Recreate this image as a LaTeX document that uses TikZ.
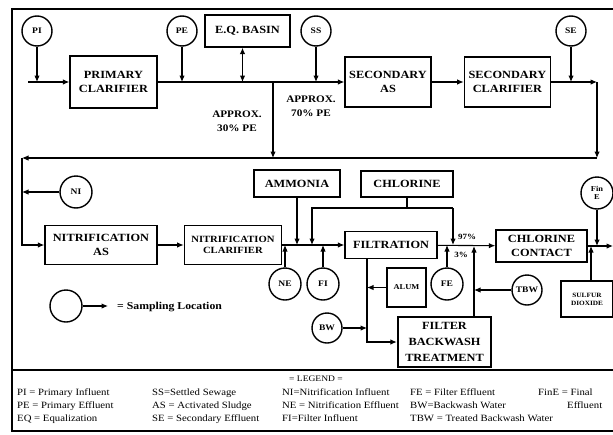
\documentclass[tikz,border=0pt]{standalone}
\usepackage{fontspec}
\setmainfont{Liberation Serif}[FakeStretch=1.12]
\usetikzlibrary{positioning,arrows.meta}

\begin{document}
\begin{tikzpicture}[x=1pt,y=-1pt,
  blk/.style={draw,line width=1.4pt,align=center,inner sep=2pt,
              font=\fontsize{11}{13.5}\selectfont\bfseries},
  smp/.style={draw,circle,line width=1.4pt,minimum size=30pt,inner sep=0pt,
              font=\fontsize{8.5}{9}\selectfont\bfseries},
  lbl/.style={align=center,inner sep=0pt,font=\fontsize{10}{14}\selectfont\bfseries},
  pct/.style={inner sep=0pt,font=\fontsize{8}{9}\selectfont\bfseries},
  keycol/.style={anchor=north west,align=left,inner sep=0pt,
                 font=\fontsize{9.6}{13}\selectfont},
  ar/.style={-{Latex[length=6.5pt,width=5.5pt]},line width=1.1pt},
  dar/.style={{Latex[length=6.5pt,width=5.5pt]}-{Latex[length=6.5pt,width=5.5pt]},line width=1.1pt},
  ln/.style={line width=1.1pt}
]
\useasboundingbox (0,0) rectangle (613,434);
\clip (0,0) rectangle (613,434);
\draw[line width=1.8pt] (12,9) rectangle (620,431);

% sampling points
\node[smp] (pi) at (37,31) {PI};
\node[smp] (pe) at (182,31) {PE};
\node[smp] (ss) at (316,31) {SS};
\node[smp] (se) at (571,31) {SE};
\node[smp,minimum size=32pt] (ni) at (76,192) {NI};
\node[smp,minimum size=32pt] (ne) at (285,284) {NE};
\node[smp,minimum size=32pt] (fi) at (323,284) {FI};
\node[smp,minimum size=32pt] (fe) at (447,284) {FE};
\node[smp] (bw) at (327,328) {BW};
\node[smp] (tbw) at (527,290) {TBW};
\node[smp,minimum size=32pt,font=\fontsize{7.5}{8.5}\selectfont\bfseries,align=center] (fin) at (597,193) {Fin\\E};

% process units
\node[blk,minimum width=87pt,minimum height=52pt] (pc) at (113.5,82) {PRIMARY\\CLARIFIER};
\node[blk,minimum width=85pt,minimum height=32pt] (eq) at (247.5,31) {E.Q. BASIN};
\node[blk,minimum width=86pt,minimum height=50pt] (sas) at (388,82) {SECONDARY\\AS};
\node[blk,minimum width=86pt,minimum height=50pt,right=32pt of sas] (sc) {SECONDARY\\CLARIFIER};
\node[blk,minimum width=112pt,minimum height=39pt] (nas) at (101,245) {NITRIFICATION\\AS};
\node[blk,font=\fontsize{9.5}{11.5}\selectfont\bfseries,minimum width=97pt,minimum height=39pt,
      right=26pt of nas] (nc) {NITRIFICATION\\CLARIFIER};
\node[blk,minimum width=86pt,minimum height=27pt] (amm) at (297,183.5) {AMMONIA};
\node[blk,minimum width=92pt,minimum height=26pt] (chl) at (407,184) {CHLORINE};
\node[blk,minimum width=92pt,minimum height=27pt] (filt) at (391,245) {FILTRATION};
\node[blk,minimum width=91pt,minimum height=32pt] (cc) at (541.5,246) {CHLORINE\\CONTACT};
\node[blk,font=\fontsize{7.5}{9}\selectfont\bfseries,minimum size=39pt] (alum) at (406.5,287.5) {ALUM};
\node[blk,line width=2.4pt,font=\fontsize{11}{16}\selectfont\bfseries,
      minimum width=93pt,minimum height=50pt] (fbt) at (444.5,342) {FILTER\\BACKWASH\\TREATMENT};
\node[blk,font=\fontsize{6.5}{8}\selectfont\bfseries,minimum width=52pt,minimum height=36pt]
  (so2) at (587,299) {SULFUR\\DIOXIDE};

% labels
\node[lbl] (ap30) at (237,121) {APPROX.\\30\% PE};
\node[lbl] (ap70) at (311,106) {APPROX.\\70\% PE};
\node[pct] (p97) at (467,237) {97\%};
\node[pct] (p3) at (461,255) {3\%};

% junctions
\coordinate (in) at (28,82);
\coordinate (j1) at (273,82);
\coordinate (rt1) at (597,82);
\coordinate (rt2) at (597,158);
\coordinate (lt1) at (22,158);
\coordinate (cl1) at (312,208);
\coordinate (cl2) at (453,208);
\coordinate (bk) at (367,300);
\coordinate (rc) at (474,300);
\coordinate (sx) at (591,280);
\coordinate (out) at (613,246);

% top train
\draw[ar] (in) -- (pc);
\draw[ar] (pi) -- (pi |- in);
\draw[ar] (pc) -- (sas);
\draw[ar] (pe) -- (pe |- pc.east);
\draw[dar] ([xshift=-5pt]eq.south) -- ([xshift=-5pt]eq.south |- pc.east);
\draw[ar] (ss) -- (ss |- sas.west);
\draw[ar] (sas) -- (sc);
\draw[ar] (se) -- (se |- sc.east);
\draw[ar] (sc) -- (rt1);
\draw[ar] (rt1) -- (rt2);
\draw[ar] (rt2) -- (lt1);
\draw[ar] (j1) -- (j1 |- rt2);
\draw[ar] (lt1) |- (nas);
\draw[ar] (ni) -- (ni -| lt1);

% nitrification and filtration
\draw[ar] (nas) -- (nc);
\draw[ar] (nc) -- (filt);
\draw[ar] (amm) -- (amm |- nc.east);
\draw[ln] (chl.south) -- (chl.south |- cl1);
\draw[ar] (cl2) -- (cl1) -- (cl1 |- nc.east);
\draw[ar] (cl2) -- (cl2 |- filt.east);
\draw[ar] (ne) -- (ne |- nc.east);
\draw[ar] (fi) -- (fi |- nc.east);
\draw[ar] (filt) -- (cc);
\draw[ar] (fe) -- (fe |- filt.east);
\draw[ar] (filt.south -| bk) |- (fbt);
\draw[ar] (alum) -- (alum -| bk);
\draw[ar] (bw) -- (bw -| bk);
\draw[ar] (fbt.north -| rc) -- (rc |- cc.west);
\draw[ar] (tbw) -- (tbw -| rc);
\draw[ar] (cc) -- (out);
\draw[ar] (fin) -- (fin |- cc.east);
\draw[ar] (so2.north -| sx) -- (sx |- cc.east);

% key
\node[smp,minimum size=32pt] (key) at (66,306) {};
\coordinate (keyend) at (108,306);
\draw[ar] (key) -- (keyend);
\node[anchor=west,inner sep=0pt,font=\fontsize{10.5}{12}\selectfont\bfseries] (keytxt) at (117,307) {= Sampling Location};

% legend
\draw[line width=1.8pt] (12,370) -- (620,370);
\node[inner sep=0pt,font=\fontsize{8.5}{10}\selectfont] (lgt) at (316,379) {= LEGEND =};
\node[keycol] (lga) at (17,389) {PI = Primary Influent\\PE = Primary Effluent\\EQ = Equalization};
\node[keycol] (lgb) at (152,389) {SS=Settled Sewage\\AS = Activated Sludge\\SE = Secondary Effluent};
\node[keycol] (lgc) at (282,389) {NI=Nitrification Influent\\NE = Nitrification Effluent\\FI=Filter Influent};
\node[keycol] (lgd) at (410,389) {FE = Filter Effluent\\BW=Backwash Water\\TBW = Treated Backwash Water};
\node[keycol] (lge) at (538,389) {FinE = Final\\\hspace*{29pt}Effluent};
\end{tikzpicture}
\end{document}
